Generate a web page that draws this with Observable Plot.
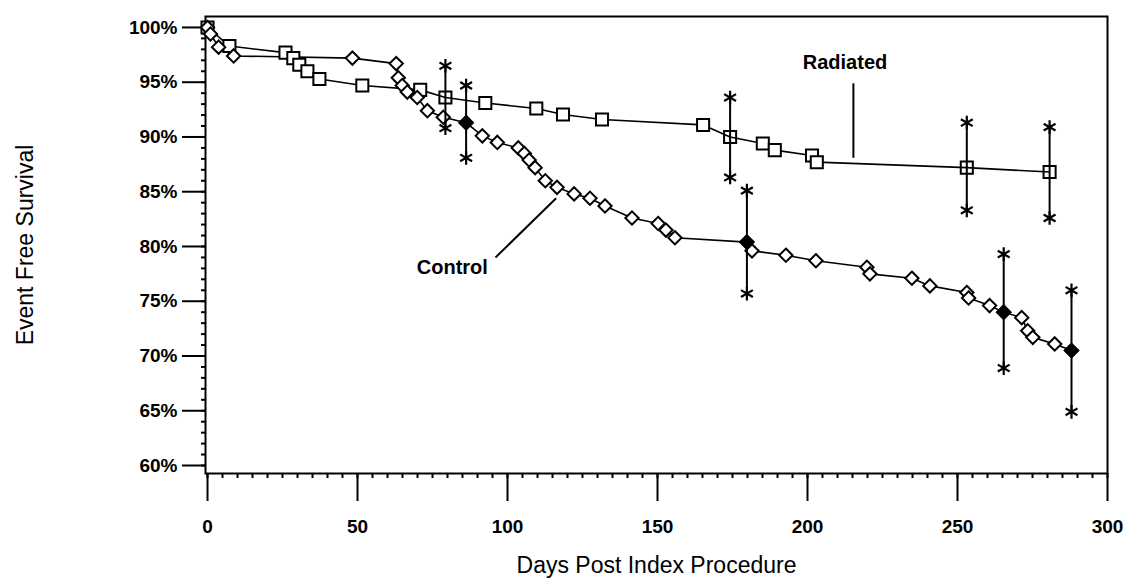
<!DOCTYPE html>
<html><head><meta charset="utf-8">
<script src="https://cdn.jsdelivr.net/npm/d3@7"></script>
<script src="https://cdn.jsdelivr.net/npm/@observablehq/plot@0.6"></script>
<style>body{margin:0;background:#fff}</style>
</head><body><div id="chart"></div>
<script>
// Control (diamonds)
const controlDays = [0, 1, 3.7, 8.7, 48.3, 62.9, 63.6, 64.9, 66.6, 69.9, 73.3, 78.6, 86.2, 91.6, 96.6, 103.6, 105.6, 107.2, 109.2, 112.6, 116.5, 122.2, 127.5, 132.5, 141.5, 150.2, 152.8, 155.8, 179.8, 181.5, 192.8, 202.8, 219.8, 220.8, 234.8, 240.8, 253.1, 253.7, 260.7, 265.4, 271.4, 273.4, 275.1, 282.4, 288];
const controlSurv = [100, 99.4, 98.2, 97.4, 97.2, 96.7, 95.4, 94.7, 94.1, 93.6, 92.4, 91.8, 91.3, 90.1, 89.5, 89.0, 88.5, 87.9, 87.2, 86.0, 85.4, 84.8, 84.4, 83.7, 82.6, 82.1, 81.5, 80.8, 80.4, 79.6, 79.2, 78.7, 78.1, 77.5, 77.1, 76.4, 75.8, 75.3, 74.6, 74.0, 73.5, 72.3, 71.7, 71.1, 70.5];
// Radiated (squares)
const radiatedDays = [0, 7.3, 26, 28.6, 30.6, 33.3, 37.3, 51.6, 70.9, 79.3, 92.6, 109.6, 118.5, 131.5, 165.2, 174.2, 185.1, 189.1, 201.5, 203.1, 253.1, 280.7];
const radiatedSurv = [100, 98.3, 97.7, 97.2, 96.6, 96.0, 95.3, 94.7, 94.3, 93.6, 93.1, 92.6, 92.05, 91.6, 91.1, 90.0, 89.4, 88.8, 88.3, 87.7, 87.2, 86.8];
// Confidence bars
const ctrlBarDays = [86.2, 179.8, 265.4, 288];
const ctrlBarMid = [91.3, 80.4, 74.0, 70.5];
const ctrlBarLow = [88.1, 75.7, 68.9, 64.9];
const ctrlBarHigh = [94.7, 85.1, 79.3, 76.0];
const radBarDays = [79.3, 174.2, 253.1, 280.7];
const radBarLow = [90.8, 86.3, 83.3, 82.6];
const radBarHigh = [96.5, 93.6, 91.3, 90.9];
// Annotations
const seriesLabels = ["Radiated", "Control"];
const labelDays = [212.5, 81.6];
const labelSurv = [96.8, 78.1];
const pointerFromDays = [215.3, 96];
const pointerFromSurv = [94.9, 79.0];
const pointerToDays = [215.3, 116.2];
const pointerToSurv = [88.1, 84.4];
// Ticks
const xMajorTicks = [0, 50, 100, 150, 200, 250, 300];
const xMinorTicks = d3.range(0, 301, 5);
const yMajorTicks = [60, 65, 70, 75, 80, 85, 90, 95, 100];
const yMinorTicks = d3.range(60, 101, 1);
const xTitle = "Days Post Index Procedure";
const yTitle = "Event Free Survival";

const control = controlDays.map((d, i) => ({day: d, surv: controlSurv[i]}));
const radiated = radiatedDays.map((d, i) => ({day: d, surv: radiatedSurv[i]}));
const radBarSet = new Set(radBarDays);
const ctrlBars = ctrlBarDays.map((d, i) => ({day: d, mid: ctrlBarMid[i], lo: ctrlBarLow[i], hi: ctrlBarHigh[i]}));
const radBars = radBarDays.map((d, i) => ({day: d, lo: radBarLow[i], hi: radBarHigh[i]}));
const bars = ctrlBars.concat(radBars);
const caps = bars.flatMap(b => [{day: b.day, v: b.lo}, {day: b.day, v: b.hi}]);
const labels = seriesLabels.map((t, i) => ({t, day: labelDays[i], surv: labelSurv[i]}));
const pointers = seriesLabels.map((t, i) => ({x1: pointerFromDays[i], y1: pointerFromSurv[i], x2: pointerToDays[i], y2: pointerToSurv[i]}));

const font = "'Liberation Sans', Arial, Helvetica, sans-serif";
const chart = Plot.plot({
  width: 1124, height: 585,
  marginLeft: 205, marginRight: 17, marginTop: 16, marginBottom: 112,
  x: {domain: [-0.67, 300]},
  y: {domain: [59.27, 101]},
  style: {fontFamily: font, background: "white", color: "black"},
  marks: [
    Plot.axisX(xMinorTicks, {tickSize: 5, tickFormat: () => "", label: null, strokeWidth: 2}),
    Plot.axisX(xMajorTicks, {tickSize: 28, tickPadding: 18, tickFormat: d => String(d), label: null, fontSize: 19, fontWeight: "bold", strokeWidth: 2}),
    Plot.axisY(yMinorTicks, {tickSize: 4, tickFormat: () => "", label: null, strokeWidth: 2}),
    Plot.axisY(yMajorTicks, {tickSize: 23, tickPadding: 5, tickFormat: d => d + "%", label: null, fontSize: 19, fontWeight: "bold", strokeWidth: 2}),
    Plot.frame({stroke: "black", strokeWidth: 2}),
    Plot.line(radiated, {x: "day", y: "surv", stroke: "black", strokeWidth: 1.6}),
    Plot.line(control, {x: "day", y: "surv", stroke: "black", strokeWidth: 1.6}),
    Plot.dot(radiated.filter(d => !radBarSet.has(d.day)), {x: "day", y: "surv", symbol: "square", r: 6.8, stroke: "black", strokeWidth: 2, fill: "white"}),
    Plot.dot(radiated.filter(d => radBarSet.has(d.day)), {x: "day", y: "surv", symbol: "square", r: 6.8, stroke: "black", strokeWidth: 2, fill: "none"}),
    Plot.dot(control, {x: "day", y: "surv", symbol: "diamond2", r: 6, stroke: "black", strokeWidth: 2, fill: "white"}),
    Plot.ruleX(bars, {x: "day", y1: "lo", y2: "hi", stroke: "black", strokeWidth: 2}),
    Plot.dot(ctrlBars, {x: "day", y: "mid", symbol: "diamond2", r: 6, fill: "black", stroke: "black", strokeWidth: 2}),
    Plot.dot(caps, {x: "day", y: "v", symbol: "asterisk", r: 6.5, stroke: "black", strokeWidth: 2.2}),
    Plot.link(pointers, {x1: "x1", y1: "y1", x2: "x2", y2: "y2", stroke: "black", strokeWidth: 2}),
    Plot.text(labels, {x: "day", y: "surv", text: "t", fontSize: 20, fontWeight: "bold", fill: "black"}),
    Plot.text([yTitle], {text: d => d, frameAnchor: "left", textAnchor: "middle", lineAnchor: "middle", dx: -180, rotate: -90, fontSize: 23, fill: "black"}),
    Plot.text([xTitle], {text: d => d, frameAnchor: "bottom", textAnchor: "middle", lineAnchor: "middle", dy: 92, fontSize: 23, fill: "black"})
  ]
});
document.getElementById("chart").appendChild(chart);
</script>
</body></html>
